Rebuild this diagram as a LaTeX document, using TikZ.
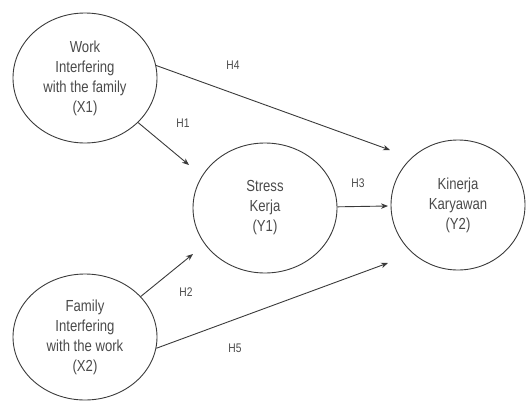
\documentclass[tikz,border=0pt]{standalone}
\usepackage{fontspec}
\setmainfont{Liberation Sans}[FakeStretch=0.82]
\usetikzlibrary{shapes.geometric,arrows.meta}
\definecolor{txt}{HTML}{4A4A4A}
\definecolor{ln}{HTML}{3A3A3A}
\begin{document}
\begin{tikzpicture}[x=1bp,y=1bp,
  var/.style={ellipse,draw=ln,line width=0.9bp,inner sep=0pt,text=txt,align=center,
    font=\fontsize{16bp}{20bp}\selectfont},
  arr/.style={draw=ln,line width=0.9bp,-{Stealth[length=7bp,width=5.5bp]}},
  hyp/.style={text=txt,font=\fontsize{12.5bp}{14bp}\selectfont,inner sep=0pt}]
\useasboundingbox (0,0) rectangle (526,402);
\node[var,minimum width=144bp,minimum height=130bp] (x1) at (85,324) {Work\\Interfering\\with the family\\(X1)};
\node[var,minimum width=144bp,minimum height=126bp] (x2) at (85,65) {Family\\Interfering\\with the work\\(X2)};
\node[var,minimum width=144bp,minimum height=130bp] (y1) at (265,194) {Stress\\Kerja\\(Y1)};
\node[var,minimum width=134bp,minimum height=130bp] (y2) at (458,197) {Kinerja\\Karyawan\\(Y2)};
\coordinate (t4) at (390,252);
\coordinate (t1) at (189,237);
\coordinate (t2) at (193,148);
\coordinate (t5) at (388,139);
\coordinate (t3) at (388,196);
\draw[arr] (x1.10) -- (t4);
\draw[arr] (x1.-40) -- (t1);
\draw[arr] (x2.36) -- (t2);
\draw[arr] (x2.-9) -- (t5);
\draw[arr] (y1) -- (t3);
\node[hyp] (h4) at (233,337) {H4};
\node[hyp] (h1) at (183,279) {H1};
\node[hyp] (h3) at (358,219) {H3};
\node[hyp] (h2) at (186,110) {H2};
\node[hyp] (h5) at (235,54) {H5};
\end{tikzpicture}
\end{document}
